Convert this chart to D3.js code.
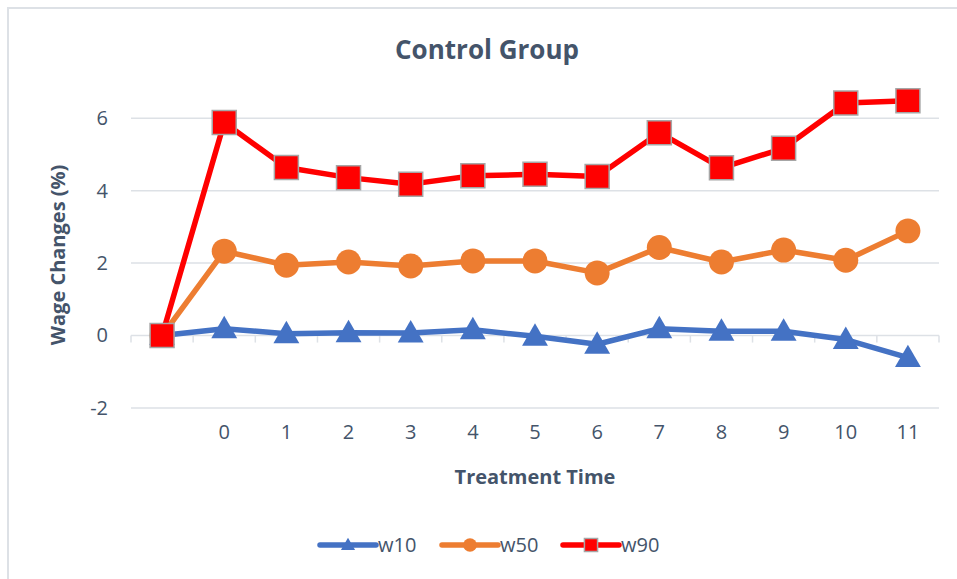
<!DOCTYPE html>
<html>
<head>
<meta charset="utf-8">
<script src="https://cdn.jsdelivr.net/npm/d3@7"></script>
<style>
  html, body { margin: 0; padding: 0; background: #ffffff; }
  svg { display: block; font-family: "Open Sans", "Noto Sans", sans-serif; }
</style>
</head>
<body>
<svg id="chart" width="957" height="579"></svg>
<script>
// Categories on the horizontal axis (first slot is an unlabeled baseline)
const categories = ["", "0", "1", "2", "3", "4", "5", "6", "7", "8", "9", "10", "11"];

// Wage changes (%) by percentile
const w10 = [0, 0.19, 0.05, 0.08, 0.07, 0.16, -0.02, -0.24, 0.19, 0.12, 0.12, -0.11, -0.61];
const w50 = [0, 2.33, 1.94, 2.03, 1.92, 2.06, 2.06, 1.73, 2.43, 2.03, 2.36, 2.08, 2.89];
const w90 = [0, 5.88, 4.64, 4.36, 4.18, 4.41, 4.45, 4.39, 5.60, 4.63, 5.17, 6.42, 6.48];

const yTicks = [-2, 0, 2, 4, 6];

const seriesNames = ["w10", "w50", "w90"];
const seriesValues = [w10, w50, w90];

const textColor = "#44546A";
const gridColor = "#DDE1E6";
const colors = { w10: "#4472C4", w50: "#ED7D31", w90: "#FF0000" };
const symbols = { w10: d3.symbolTriangle, w50: d3.symbolCircle, w90: d3.symbolSquare };

const svg = d3.select("#chart");

// Chart frame
svg.append("rect")
  .attr("x", 8).attr("y", 8)
  .attr("width", 960).attr("height", 590)
  .attr("fill", "#fff")
  .attr("stroke", gridColor).attr("stroke-width", 2);

const plot = { left: 131, right: 939, top: 82, bottom: 408 };

const x = d3.scaleBand().domain(categories).range([plot.left, plot.right]).padding(0);
const y = d3.scaleLinear().domain([-2, 7]).range([plot.bottom, plot.top]);
const cx = c => x(c) + x.bandwidth() / 2;

// Title
svg.append("text")
  .attr("x", 487).attr("y", 59)
  .attr("text-anchor", "middle")
  .attr("font-size", 26).attr("font-weight", 700)
  .attr("fill", textColor)
  .text("Control Group");

// Horizontal gridlines
svg.append("g")
  .selectAll("line")
  .data(yTicks.filter(t => t !== 0))
  .join("line")
  .attr("x1", plot.left).attr("x2", plot.right)
  .attr("y1", d => y(d)).attr("y2", d => y(d))
  .attr("stroke", gridColor).attr("stroke-width", 1.5);

// Y axis tick labels
const yAxis = d3.axisLeft(y).tickValues(yTicks).tickSize(0).tickPadding(0)
  .tickFormat(d => d < 0 ? "-" + Math.abs(d) : String(d));
const gy = svg.append("g").attr("transform", `translate(${plot.left - 23},0)`).call(yAxis);
gy.select(".domain").remove();
gy.selectAll("text")
  .attr("font-size", 20).attr("fill", textColor)
  .attr("font-family", "'Open Sans', sans-serif");

// Category axis crossing at zero, tick marks on band boundaries
const gx = svg.append("g").attr("transform", `translate(0,${y(0)})`);
gx.append("line")
  .attr("x1", plot.left).attr("x2", plot.right)
  .attr("y1", 0).attr("y2", 0)
  .attr("stroke", gridColor).attr("stroke-width", 1.5);
const boundaries = categories.map(c => x(c)).concat([plot.right]);
gx.selectAll("line.tick")
  .data(boundaries)
  .join("line")
  .attr("class", "tick")
  .attr("x1", d => d).attr("x2", d => d)
  .attr("y1", 0).attr("y2", 7)
  .attr("stroke", gridColor).attr("stroke-width", 1.5);

// Category labels placed below the plot
const xAxis = d3.axisBottom(x).tickSize(0).tickPadding(0);
const gxl = svg.append("g").attr("transform", `translate(0,${plot.bottom + 17})`).call(xAxis);
gxl.select(".domain").remove();
gxl.selectAll("text")
  .attr("font-size", 20).attr("fill", textColor)
  .attr("font-family", "'Open Sans', sans-serif");

// Axis titles
svg.append("text")
  .attr("x", (plot.left + plot.right) / 2).attr("y", 484)
  .attr("text-anchor", "middle")
  .attr("font-size", 20).attr("font-weight", 700)
  .attr("fill", textColor)
  .text("Treatment Time");

svg.append("text")
  .attr("transform", "translate(65,255) rotate(-90)")
  .attr("text-anchor", "middle")
  .attr("font-size", 20).attr("font-weight", 700)
  .attr("fill", textColor)
  .text("Wage Changes (%)");

// Series lines and markers
const line = d3.line().x((d, i) => cx(categories[i])).y(d => y(d));

function drawMarker(sel, name, size) {
  const sym = d3.symbol().type(symbols[name]).size(size);
  sel.attr("d", sym)
    .attr("fill", colors[name])
    .attr("stroke", name === "w90" ? "#A6A6A6" : "none")
    .attr("stroke-width", name === "w90" ? 1.5 : 0);
}

const markerArea = { w10: 290, w50: 490, w90: 576 };

seriesNames.forEach((name, si) => {
  const vals = seriesValues[si];
  const g = svg.append("g");
  g.append("path")
    .datum(vals)
    .attr("d", line)
    .attr("fill", "none")
    .attr("stroke", colors[name])
    .attr("stroke-width", 5.5)
    .attr("stroke-linejoin", "round");
  g.selectAll("path.marker")
    .data(vals)
    .join("path")
    .attr("class", "marker")
    .attr("transform", (d, i) => {
      const ty = name === "w10" ? y(d) + 2 : y(d);
      return `translate(${cx(categories[i])},${ty})`;
    })
    .call(drawMarker, name, markerArea[name]);
});

// Legend
const legendItems = [
  { name: "w10", x: 320 },
  { name: "w50", x: 442 },
  { name: "w90", x: 563 }
];
const ly = 545;
const lg = svg.append("g");
legendItems.forEach(it => {
  lg.append("line")
    .attr("x1", it.x).attr("x2", it.x + 56)
    .attr("y1", ly).attr("y2", ly)
    .attr("stroke", colors[it.name]).attr("stroke-width", 5.5)
    .attr("stroke-linecap", "round");
  lg.append("path")
    .attr("transform", `translate(${it.x + 28},${ly + (it.name === "w10" ? 1 : 0)})`)
    .call(drawMarker, it.name, markerArea[it.name] * 0.3);
  lg.append("text")
    .attr("x", it.x + 58).attr("y", ly + 7)
    .attr("font-size", 20).attr("fill", textColor)
    .text(it.name);
});
</script>
</body>
</html>
